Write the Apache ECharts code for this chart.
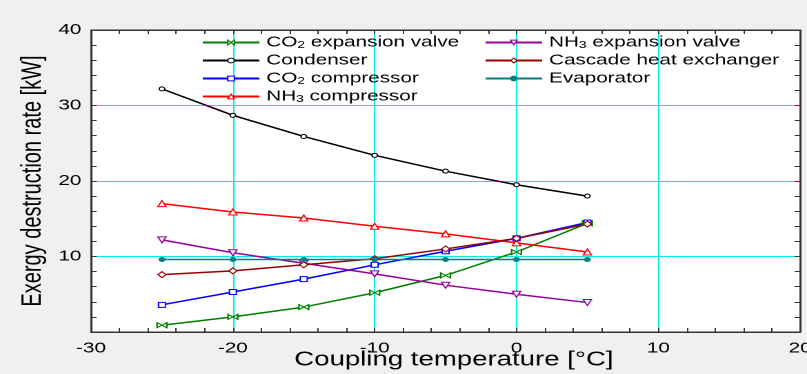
<!DOCTYPE html>
<html>
<head>
<meta charset="utf-8">
<script src="https://cdn.jsdelivr.net/npm/echarts@6/dist/echarts.min.js"></script>
<style>
html,body{margin:0;padding:0;background:#f0f0f0;overflow:hidden;}
#wrap{width:807px;height:374px;overflow:hidden;position:relative;}
#c{width:585px;height:374px;transform:scaleX(1.3795);transform-origin:0 0;}
</style>
</head>
<body>
<div id="wrap"><div id="c"></div></div>
<script>
// Data
const temps = [-25, -20, -15, -10, -5, 0, 5];
const co2ExpansionValve = [0.9, 2.0, 3.3, 5.2, 7.5, 10.6, 14.4];
const condenser = [32.2, 28.7, 25.9, 23.4, 21.3, 19.5, 18.0];
const co2Compressor = [3.6, 5.3, 7.0, 8.9, 10.7, 12.4, 14.5];
const nh3Compressor = [17.0, 15.9, 15.1, 14.0, 13.0, 11.8, 10.6];
const nh3ExpansionValve = [12.2, 10.5, 9.1, 7.7, 6.2, 5.0, 3.9];
const cascadeHeatExchanger = [7.6, 8.1, 8.9, 9.7, 11.0, 12.4, 14.3];
const evaporator = [9.6, 9.6, 9.6, 9.6, 9.6, 9.6, 9.6];
const xTicks = [-30, -20, -10, 0, 10, 20];
const yTicks = [0, 10, 20, 30, 40];
const legendLeft = ['CO2 expansion valve', 'Condenser', 'CO2 compressor', 'NH3 compressor'];
const legendRight = ['NH3 expansion valve', 'Cascade heat exchanger', 'Evaporator'];

const chart = echarts.init(document.getElementById('c'), null, {renderer: 'canvas', devicePixelRatio: 2});
const pair = arr => temps.map((t, i) => [t, arr[i]]);
const bowtie = 'path://M0,0L0,10L10,5ZM20,0L20,10L10,5Z';

const colors = {
  'CO2 expansion valve': '#008000', 'Condenser': '#000000', 'CO2 compressor': '#0000ff',
  'NH3 compressor': '#ff0000', 'NH3 expansion valve': '#990099',
  'Cascade heat exchanger': '#990000', 'Evaporator': '#008080'
};
const hollow = n => n !== 'Evaporator';

function mk(name, data, symbol, size) {
  const color = colors[name];
  return {
    name: name, type: 'line', data: pair(data), symbol: symbol, symbolSize: size,
    showAllSymbol: true,
    lineStyle: {color: color, width: 1.5},
    itemStyle: {color: hollow(name) ? '#ffffff' : color, borderColor: color, borderWidth: 1},
    emphasis: {disabled: true}, animation: false, z: 3
  };
}

const font = 'Liberation Sans, Arial, sans-serif';
const fmt = n => n.replace(/(CO|NH)(\d)/, '$1{sub|$2}');
const legendText = {
  fontSize: 15, color: '#000', fontFamily: font,
  rich: {sub: {fontSize: 10, verticalAlign: 'bottom', lineHeight: 12, padding: [4, 0, 0, 0], fontFamily: font, color: '#000'}}
};
const legItems = names => names.map(n => ({
  name: n,
  itemStyle: {color: hollow(n) ? '#ffffff' : colors[n], borderColor: colors[n], borderWidth: 1}
}));
const tickStyle = {show: true, inside: true, length: 4, lineStyle: {color: '#333'}};
const minorStyle = {show: true, splitNumber: 5, length: 4, lineStyle: {color: '#333'}};
const lineSt = {show: true, onZero: false, lineStyle: {color: '#333'}};

const option = {
  backgroundColor: '#f0f0f0',
  animation: false,
  grid: {left: 66, right: 5, top: 30, bottom: 42, show: true, outerBoundsMode: 'none', containLabel: false,
    backgroundColor: '#ffffff', borderColor: '#333', borderWidth: 1},
  legend: [
    {data: legItems(legendLeft), orient: 'vertical', left: 141, top: 30, itemWidth: 41, itemHeight: 6, itemGap: 3,
     formatter: fmt, textStyle: legendText},
    {data: legItems(legendRight), orient: 'vertical', left: 346, top: 30, itemWidth: 41, itemHeight: 6, itemGap: 3,
     formatter: fmt, textStyle: legendText}
  ],
  xAxis: [{
    type: 'value', min: xTicks[0], max: xTicks[xTicks.length - 1], interval: 10,
    name: 'Coupling temperature [°C]', nameLocation: 'middle', nameGap: 18, nameMoveOverlap: false,
    nameTextStyle: {fontSize: 20, color: '#000', fontFamily: font, padding: [0, 0, 0, 12]},
    axisLine: lineSt, axisTick: tickStyle, minorTick: minorStyle,
    axisLabel: {fontSize: 15, color: '#000', fontFamily: font, margin: 9, showMinLabel: true, showMaxLabel: true},
    splitLine: {show: true, lineStyle: {color: '#00eeee', width: 1}}
  }, {
    type: 'value', position: 'top', min: xTicks[0], max: xTicks[xTicks.length - 1], interval: 10,
    axisLine: lineSt, axisTick: tickStyle, minorTick: minorStyle,
    axisLabel: {show: false}, splitLine: {show: false}
  }],
  yAxis: [{
    type: 'value', min: yTicks[0], max: yTicks[yTicks.length - 1], interval: 10,
    name: 'Exergy destruction rate [kW]', nameLocation: 'middle', nameGap: 32, nameRotate: 90, nameMoveOverlap: false,
    nameTextStyle: {fontSize: 20, color: '#000', fontFamily: font},
    axisLine: lineSt, axisTick: tickStyle, minorTick: minorStyle,
    axisLabel: {fontSize: 15, color: '#000', fontFamily: font, margin: 7,
      formatter: v => (v === 0 ? '' : String(v))},
    splitLine: {show: true, lineStyle: {color: '#00eeee', width: 1}}
  }, {
    type: 'value', position: 'right', min: yTicks[0], max: yTicks[yTicks.length - 1], interval: 10,
    axisLine: lineSt, axisTick: tickStyle, minorTick: minorStyle,
    axisLabel: {show: false}, splitLine: {show: false}
  }],
  series: [
    mk('CO2 expansion valve', co2ExpansionValve, bowtie, [7, 5]),
    mk('Condenser', condenser, 'circle', 4),
    mk('CO2 compressor', co2Compressor, 'rect', 5),
    mk('NH3 compressor', nh3Compressor, 'triangle', 6),
    mk('NH3 expansion valve', nh3ExpansionValve, 'path://M0,0L10,0L5,10Z', 6),
    mk('Cascade heat exchanger', cascadeHeatExchanger, 'diamond', 6),
    mk('Evaporator', evaporator, 'circle', 4)
  ]
};
chart.setOption(option);
</script>
</body>
</html>
